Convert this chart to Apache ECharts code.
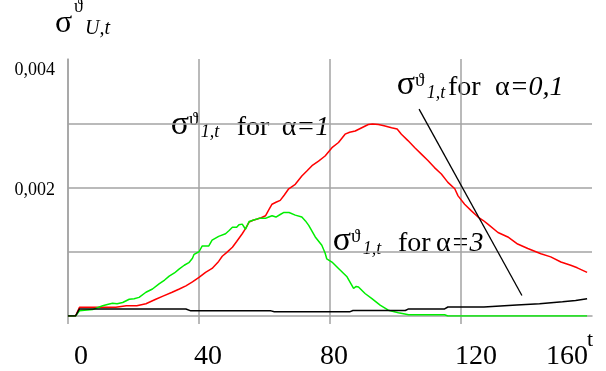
<!DOCTYPE html>
<html>
	<head>
		<meta charset="UTF-8">
		<title>sigma</title>
		<script type="text/javascript" src="https://cdn.jsdelivr.net/npm/echarts/dist/echarts.min.js"></script>
		<style>
			html,body{margin:0;padding:0;background:#fff;}
			#chart{width:606px;height:371px;}
		</style>
	</head>
	<body>
		<div id="chart"></div>
		<script type="text/javascript">
			// axis ticks / labels
			var xTicks = [0, 40, 80, 120];
			var xLabels = [0, 40, 80, 120, 160];
			var yTicks = [0.001, 0.002, 0.003];
			var yLabels = [0.002, 0.004];

			// alpha = 1 (red)
			var tRed = [0, 2.3, 3.5, 14.6, 17.8, 21, 23.8, 26.8, 29, 31.8, 34, 36, 38, 40, 42, 44, 46, 47.1, 48.5, 50.2,
				51.5, 53.2, 54.2, 55.3, 56.5, 57.8, 59, 60.3, 61.3, 62.3, 63.5, 64.8, 66, 67.4, 69.4, 71.4, 73, 74.5, 76.5, 78.5,
				80.6, 82.6, 84.6, 86, 87.7, 89.7, 91.7, 93, 94.8, 96.5, 98.8, 100.5, 101.8, 103.8, 105.9, 107.9, 109.9, 111.9, 114, 116,
				118.1, 119.1, 121.1, 123.1, 125.2, 126.7, 128.2, 131.3, 134.3, 137.3, 140.4, 144.4, 147.4, 150.5, 153.5, 155.5, 158.5];
			var yRed = [0, 0, 0.000135, 0.000135, 0.00016, 0.00016, 0.00019, 0.00026, 0.00031, 0.00037, 0.00042, 0.00047, 0.00053, 0.0006, 0.00068, 0.00074, 0.00085, 0.00093, 0.00099, 0.00107,
				0.00116, 0.00128, 0.00136, 0.00146, 0.00149, 0.00151, 0.00153, 0.00156, 0.00165, 0.00174, 0.00177, 0.0018, 0.00188, 0.00198, 0.00205, 0.00218, 0.00226, 0.00234, 0.00241, 0.00249,
				0.00262, 0.0027, 0.00283, 0.00286, 0.00288, 0.00293, 0.00298, 0.00299, 0.00298, 0.00296, 0.00293, 0.00291, 0.00283, 0.00273, 0.00262, 0.00252, 0.00242, 0.00231, 0.00221, 0.00208,
				0.00198, 0.00187, 0.00174, 0.00164, 0.00154, 0.00149, 0.00143, 0.0013, 0.00123, 0.00112, 0.00105, 0.00097, 0.00092, 0.00084, 0.00079, 0.00075, 0.00068];

			// alpha = 3 (green)
			var tGreen = [0, 2.3, 3.5, 5, 7.5, 9, 10.6, 12, 13.6, 15, 16.7, 18.7, 20.2, 21.7, 23.8, 25.8, 27.8, 29.5, 30.9, 32.5,
				33.9, 35.5, 36.9, 38, 38.5, 40, 41, 43, 44, 46, 48.1, 49.2, 50.2, 51.5, 52.2, 53.2, 54.2, 55.3, 56.5, 58.3,
				60.3, 61.3, 62.3, 63.5, 64.8, 65.8, 67.5, 69.4, 71.4, 72.5, 73.5, 75.5, 77.5, 78.5, 79, 80.6, 82.6, 85.2, 87.2, 88,
				88.7, 90.7, 92.8, 95.3, 97.8, 100.9, 104, 115, 116, 158.5];
			var yGreen = [0, 0, 0.00008, 0.00009, 0.0001, 0.00013, 0.00016, 0.00018, 0.0002, 0.00019, 0.00021, 0.00026, 0.00027, 0.00029, 0.00037, 0.00042, 0.0005, 0.00056, 0.00062, 0.00067,
				0.00073, 0.00079, 0.00083, 0.0009, 0.00096, 0.001, 0.00109, 0.00109, 0.00118, 0.00124, 0.00128, 0.00133, 0.00138, 0.00138, 0.00142, 0.00143, 0.00135, 0.00147, 0.00149, 0.00152,
				0.00152, 0.00154, 0.00156, 0.00154, 0.00158, 0.00161, 0.00161, 0.00157, 0.00154, 0.00148, 0.00141, 0.00123, 0.0011, 0.00098, 0.00089, 0.00084, 0.00074, 0.00061, 0.00043, 0.00046,
				0.00045, 0.00035, 0.00027, 0.00017, 0.00009, 0.00005, 0.00002, 0.00002, 0, 0];

			// alpha = 0,1 (black)
			var tBlack = [0, 2.3, 3.5, 36, 37.5, 62, 63, 86, 87, 103, 104, 115, 116, 127, 127.5, 137, 137.5, 144, 144.5, 151,
				151.5, 155, 155.5, 158.5];
			var yBlack = [0, 0, 0.00011, 0.00011, 0.00008, 0.00008, 0.000065, 0.000065, 0.000085, 0.000085, 0.00011, 0.00011, 0.00014, 0.00014, 0.00017, 0.00017, 0.00019, 0.00019, 0.00022, 0.00022,
				0.00024, 0.00024, 0.00027, 0.00027];

			// pointer from the alpha=0,1 label
			var pointer = [[107.2, 0.00322], [138.6, 0.00032]];

			function pairs(t, y) {
				var out = [];
				for (var i = 0; i < t.length; i++) out.push([t[i], y[i]]);
				return out;
			}

			var SERIF = '"Liberation Serif","Times New Roman",serif';
			var gridColor = '#a3a3a3';

			// per-label horizontal nudges (as in the original)
			var xShift = {0: 13, 40: 9, 80: 4, 120: 15, 160: -25};

			function txt(x, y, text, font) {
				return {
					type: 'text', x: x, y: y, silent: true,
					style: {text: text, font: font, fill: '#000', align: 'left', verticalAlign: 'middle'}
				};
			}

			// sigma^theta_{1,t} for alpha=..., one label
			function note(x, base, forX, sub, alphaX) {
				var s = 28;
				return [
					txt(x, base - 11.9, 'σ', '34px ' + SERIF),
					txt(x + 18.3, base - 16.6, 'ϑ', '19px ' + SERIF),
					txt(x + 30, base - 4.3, '1,t', 'italic 18px ' + SERIF),
					txt(forX, base - 0.35 * s, 'for', s + 'px ' + SERIF),
					{
						type: 'text', x: alphaX, y: base - 0.35 * s, silent: true,
						style: {text: '{n|α}{i|' + sub + '}', align: 'left', verticalAlign: 'middle',
							rich: {n: {font: s + 'px ' + SERIF, fill: '#000'}, i: {font: 'italic ' + s + 'px ' + SERIF, fill: '#000'}}}
					}
				];
			}

			var myChart = echarts.init(document.getElementById('chart'));

			var option = {
				animation: false,
				backgroundColor: '#fff',
				grid: {left: 68, right: 14, top: 59, bottom: 53},
				xAxis: {
					type: 'value',
					min: 0, max: 160, interval: 40,
					axisLine: {show: true, lineStyle: {color: gridColor, width: 1.5}},
					axisTick: {show: true, customValues: xTicks, length: 8, lineStyle: {color: gridColor, width: 1.5}},
					splitLine: {show: true, lineStyle: {color: gridColor, width: 1.5}},
					axisLabel: {
						customValues: xLabels,
						margin: 27,
						color: '#000',
						fontFamily: SERIF,
						fontSize: 28,
						formatter: function(v) {
							var d = xShift[v] || 0;
							return '{' + (d >= 0 ? 'r' : 'l') + Math.abs(Math.round(d)) + '|' + v + '}';
						},
						rich: (function() {
							var r = {};
							for (var k in xShift) {
								var d = Math.abs(Math.round(xShift[k]));
								r['r' + d] = {fontFamily: SERIF, fontSize: 28, color: '#000', padding: [0, 0, 0, 2 * d]};
								r['l' + d] = {fontFamily: SERIF, fontSize: 28, color: '#000', padding: [0, 2 * d, 0, 0]};
							}
							return r;
						})()
					}
				},
				yAxis: {
					type: 'value',
					min: 0, max: 0.004, interval: 0.001,
					axisLine: {show: true, lineStyle: {color: gridColor, width: 1.5}},
					axisTick: {show: false, customValues: yTicks},
					splitLine: {show: true, lineStyle: {color: gridColor, width: 1.5}},
					axisLabel: {
						customValues: yLabels,
						margin: 13,
						color: '#000',
						fontFamily: SERIF,
						fontSize: 18,
						formatter: function(v) {
							var s = v.toFixed(3).replace('.', ',');
							return v > 0.0035 ? '{top|' + s + '}' : '{mid|' + s + '}';
						},
						rich: {
							top: {fontFamily: SERIF, fontSize: 18, color: '#000', padding: [22, 0, 0, 0]},
							mid: {fontFamily: SERIF, fontSize: 18, color: '#000', padding: [5, 0, 0, 0]}
						}
					}
				},
				series: [
					{
						name: 'alpha=1', type: 'line', showSymbol: false, silent: true,
						lineStyle: {color: '#ff0000', width: 1.5}, itemStyle: {color: '#ff0000'},
						data: pairs(tRed, yRed)
					},
					{
						name: 'alpha=3', type: 'line', showSymbol: false, silent: true,
						lineStyle: {color: '#00ee00', width: 1.5}, itemStyle: {color: '#00ee00'},
						data: pairs(tGreen, yGreen)
					},
					{
						name: 'alpha=0,1', type: 'line', showSymbol: false, silent: true,
						lineStyle: {color: '#000', width: 1.5}, itemStyle: {color: '#000'},
						data: pairs(tBlack, yBlack),
						markLine: {
							silent: true, symbol: 'none', animation: false,
							label: {show: false},
							lineStyle: {color: '#000', width: 1.3, type: 'solid'},
							data: [[{coord: pointer[0]}, {coord: pointer[1]}]]
						}
					}
				],
				graphic: [
					// y title
					txt(55, 23.8, 'σ', '32px ' + SERIF),
					txt(74, 7.4, 'ϑ', '18px ' + SERIF),
					txt(85, 29, 'U,t', 'italic 20px ' + SERIF),
					// x name
					txt(587, 340, 't', '22px ' + SERIF)
				].concat(
					note(170.7, 137, 236.7, '=1', 281.7),
					note(396.7, 97.3, 448, '=0,1', 495),
					note(332.7, 253.3, 398, '=3', 436)
				)
			};

			myChart.setOption(option);
		</script>
	</body>
</html>
